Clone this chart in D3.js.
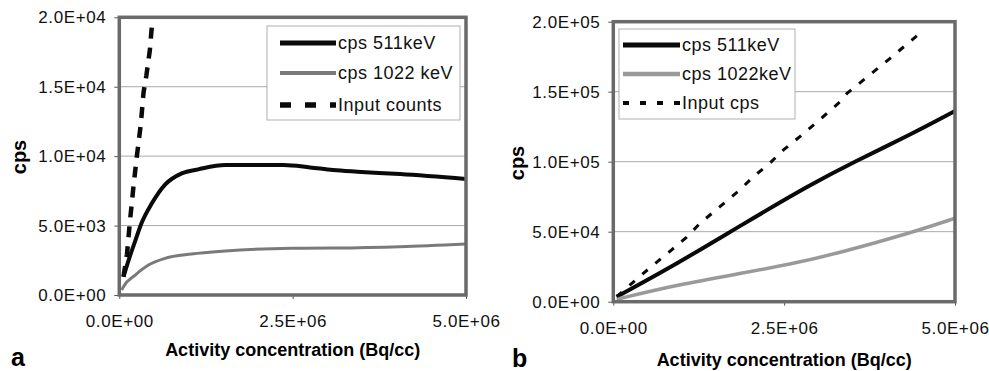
<!DOCTYPE html>
<html>
<head>
<meta charset="utf-8">
<script src="https://cdn.jsdelivr.net/npm/d3@7"></script>
<style>
  body { margin: 0; background: #fff; }
  svg { display: block; font-family: "Liberation Sans", Arial, sans-serif; }
</style>
</head>
<body>
<svg width="989" height="371"></svg>
<script>
// panel a: [activity Bq/cc, cps]
const a511 = [[0.06e6, 1320], [0.15e6, 2750], [0.23e6, 3900], [0.32e6, 5160], [0.47e6, 6600],
  [0.66e6, 7950], [0.90e6, 8760], [1.14e6, 9050], [1.53e6, 9360], [2.37e6, 9360], [2.75e6, 9190],
  [3.08e6, 9000], [3.43e6, 8880], [4.05e6, 8710], [5.0e6, 8350]];
const a1022 = [[0.035e6, 360], [0.06e6, 600], [0.23e6, 1440], [0.42e6, 2160], [0.66e6, 2640],
  [1.04e6, 2950], [1.53e6, 3170], [2.49e6, 3360], [3.08e6, 3380], [4.05e6, 3480], [5.0e6, 3670]];
const aInput = [[0.06e6, 1300], [0.11e6, 2900], [0.155e6, 5400], [0.18e6, 6600], [0.205e6, 7850],
  [0.25e6, 9860], [0.31e6, 12300], [0.35e6, 14600], [0.39e6, 15800], [0.44e6, 17600], [0.48e6, 20000]];

// panel b
const b511 = [[0.05e6, 3600], [0.93e6, 27000], [1.90e6, 55500], [2.88e6, 83500],
  [3.51e6, 99600], [4.34e6, 119100], [5.0e6, 136200]];
const b1022 = [[0.05e6, 1700], [0.93e6, 12000], [1.90e6, 20500], [2.68e6, 27600],
  [3.37e6, 35700], [4.34e6, 49000], [5.0e6, 59600]];
const bInput = [[0.05e6, 3600], [0.44e6, 20300], [0.85e6, 36900], [1.07e6, 46000], [1.27e6, 56000],
  [1.56e6, 67900], [1.85e6, 79800], [2.05e6, 89300], [2.29e6, 98900], [2.49e6, 108400],
  [2.73e6, 117900], [3.07e6, 132100], [3.32e6, 142900], [3.42e6, 148800], [4.05e6, 173800],
  [4.54e6, 194000]];

const xTicks = [0, 2.5e6, 5e6];
const aYTicks = [0, 5e3, 1e4, 1.5e4, 2e4];
const bYTicks = [0, 5e4, 1e5, 1.5e5, 2e5];
const aLegend = ["cps 511keV", "cps 1022 keV", "Input counts"];
const bLegend = ["cps 511keV", "cps 1022keV", "Input cps"];

const sci = v => {
  const [m, e] = v.toExponential(1).split("e");
  const n = Math.abs(+e);
  return m + "E" + (+e < 0 ? "-" : "+") + (n < 10 ? "0" : "") + n;
};

const svg = d3.select("svg");

function panel(o) {
  const x = d3.scaleLinear().domain([0, 5e6]).range([o.left, o.right]);
  const y = d3.scaleLinear().domain([0, o.yMax]).range([o.bottom, o.top]);
  const g = svg.append("g");

  // gridlines
  g.selectAll(".grid").data(o.yTicks.slice(1, -1)).enter().append("line")
    .attr("x1", o.left).attr("x2", o.right)
    .attr("y1", d => y(d)).attr("y2", d => y(d))
    .attr("stroke", "#a8a8a8").attr("stroke-width", 1);

  // axes
  const ya = g.append("g").attr("transform", `translate(${o.left},0)`)
    .call(d3.axisLeft(y).tickValues(o.yTicks).tickFormat(sci).tickSize(5).tickPadding(8));
  const xa = g.append("g").attr("transform", `translate(0,${o.bottom})`)
    .call(d3.axisBottom(x).tickValues(xTicks).tickFormat(sci).tickSize(4).tickPadding(16));
  [ya, xa].forEach(a => {
    a.select(".domain").remove();
    a.selectAll("text").style("font-size", "17px").style("letter-spacing", "0.6px").attr("fill", "#111");
    a.selectAll("line").attr("stroke", "#555");
  });

  const clipId = "clip" + o.name;
  g.append("clipPath").attr("id", clipId).append("rect")
    .attr("x", o.left).attr("y", o.top)
    .attr("width", o.right - o.left).attr("height", o.bottom - o.top);

  const line = d3.line().x(d => x(d[0])).y(d => y(d[1])).curve(o.curve);
  const lineIn = d3.line().x(d => x(d[0])).y(d => y(d[1]));
  const plot = g.append("g").attr("clip-path", `url(#${clipId})`);
  o.series.forEach(s => {
    plot.append("path").datum(s.data)
      .attr("d", s.dash ? lineIn : line)
      .attr("fill", "none")
      .attr("stroke", s.color).attr("stroke-width", s.width)
      .attr("stroke-dasharray", s.dash || null);
  });

  // frame
  g.append("rect").attr("x", o.left).attr("y", o.top)
    .attr("width", o.right - o.left).attr("height", o.bottom - o.top)
    .attr("fill", "none").attr("stroke", "#6a6a6a").attr("stroke-width", 3.5);

  // legend
  const L = o.legend;
  const lg = g.append("g");
  lg.append("rect").attr("x", L.x).attr("y", L.y).attr("width", L.w).attr("height", L.h)
    .attr("fill", "#fff").attr("stroke", "#b0b0b0").attr("stroke-width", 1);
  o.series.forEach((s, i) => {
    const yy = L.rows[i];
    lg.append("line").attr("x1", L.lx1).attr("x2", L.lx2).attr("y1", yy).attr("y2", yy)
      .attr("stroke", s.color).attr("stroke-width", s.width + 1)
      .attr("stroke-dasharray", s.legendDash || null);
    lg.append("text").attr("x", L.lx2 + 2).attr("y", yy).attr("dy", "0.35em")
      .style("font-size", "18px").style("letter-spacing", "0.5px").attr("fill", "#111").text(o.labels[i]);
  });

  // titles
  g.append("text").attr("x", (o.left + o.right) / 2).attr("y", o.titleY)
    .attr("text-anchor", "middle").style("font-size", "18px").style("font-weight", "bold")
    .text("Activity concentration (Bq/cc)");
  g.append("text").attr("transform", `translate(${o.cpsX},${o.cpsY}) rotate(-90)`)
    .attr("text-anchor", "middle").attr("dy", "0.35em")
    .style("font-size", "20px").style("font-weight", "bold").text("cps");
  g.append("text").attr("x", o.tagX).attr("y", o.tagY)
    .style("font-size", "25px").style("font-weight", "bold").text(o.name);
}

panel({
  name: "a", left: 119.3, right: 466, top: 17.3, bottom: 295, yMax: 2e4, yTicks: aYTicks,
  curve: d3.curveMonotoneX,
  series: [
    { data: a511, color: "#0a0a0a", width: 4 },
    { data: a1022, color: "#7a7a7a", width: 3 },
    { data: aInput, color: "#0a0a0a", width: 4.5, dash: "11,9", legendDash: "11,14" }
  ],
  labels: aLegend,
  legend: { x: 267, y: 26, w: 193, h: 94, lx1: 280, lx2: 336, rows: [43, 73, 105] },
  titleY: 356, cpsX: 19, cpsY: 157, tagX: 11, tagY: 366
});

panel({
  name: "b", left: 613.3, right: 955, top: 21.7, bottom: 301.7, yMax: 2e5, yTicks: bYTicks,
  curve: d3.curveBasis,
  series: [
    { data: b511, color: "#0a0a0a", width: 4 },
    { data: b1022, color: "#9a9a9a", width: 3.5 },
    { data: bInput, color: "#0a0a0a", width: 3, dash: "7,10", legendDash: "6,11" }
  ],
  labels: bLegend,
  legend: { x: 619, y: 29, w: 176, h: 90, lx1: 623, lx2: 680, rows: [45, 74, 103] },
  titleY: 366, cpsX: 517, cpsY: 163, tagX: 512, tagY: 367
});
</script>
</body>
</html>
